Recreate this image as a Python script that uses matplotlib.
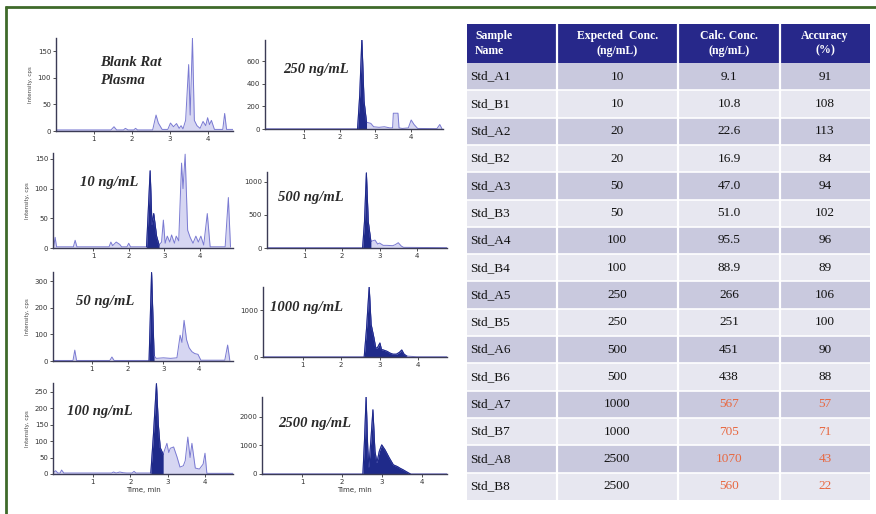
import numpy as np
import matplotlib.pyplot as plt
from matplotlib.patches import Rectangle

W, H = 876, 514

# table values
sample_names = ['Std_A1', 'Std_B1', 'Std_A2', 'Std_B2', 'Std_A3', 'Std_B3', 'Std_A4', 'Std_B4',
                'Std_A5', 'Std_B5', 'Std_A6', 'Std_B6', 'Std_A7', 'Std_B7', 'Std_A8', 'Std_B8']
expected_conc = ['10', '10', '20', '20', '50', '50', '100', '100',
                 '250', '250', '500', '500', '1000', '1000', '2500', '2500']
calc_conc = ['9.1', '10.8', '22.6', '16.9', '47.0', '51.0', '95.5', '88.9',
             '266', '251', '451', '438', '567', '705', '1070', '560']
accuracy = ['91', '108', '113', '84', '94', '102', '96', '89',
            '106', '100', '90', '88', '57', '71', '43', '22']
headers = ['Sample\nName', 'Expected  Conc.\n(ng/mL)', 'Calc. Conc.\n(ng/mL)', 'Accuracy\n(%)']

# chromatogram traces (time in min, intensity in cps)
t_blank = [0, 1.45, 1.53, 1.6, 1.78, 1.83, 1.9, 2.05, 2.1, 2.15, 2.55, 2.64, 2.7, 2.8, 2.95, 3.02,
           3.1, 3.18, 3.25, 3.3, 3.35, 3.42, 3.5, 3.54, 3.6, 3.65, 3.72, 3.8, 3.88, 3.95, 4.0, 4.05,
           4.1, 4.18, 4.4, 4.45, 4.5, 4.67]
i_blank = [2, 2, 8, 2, 2, 5, 2, 2, 5, 2, 2, 30, 15, 3, 3, 15,
           8, 14, 5, 10, 4, 20, 125, 30, 175, 20, 10, 5, 18, 10, 25, 12,
           20, 3, 3, 33, 3, 3]

t_10 = [-0.1, -0.06, -0.02, 0.45, 0.5, 0.55, 1.45, 1.5, 1.55, 1.65, 1.75, 1.8, 1.95, 2.0, 2.05,
        2.5, 2.6, 2.65, 2.7, 2.78, 2.85, 2.92, 2.97, 3.02, 3.08, 3.15, 3.2, 3.28, 3.33, 3.4,
        3.48, 3.52, 3.58, 3.65, 3.72, 3.8, 3.88, 3.95, 4.02, 4.1, 4.2, 4.28, 4.7, 4.79, 4.85]
i_10 = [2, 18, 2, 2, 13, 2, 2, 10, 4, 10, 6, 2, 2, 8, 2,
        2, 130, 40, 58, 20, 5, 10, 47, 8, 20, 10, 22, 8, 20, 12,
        143, 100, 158, 30, 18, 8, 20, 10, 20, 5, 58, 2, 2, 85, 2]

t_50 = [-0.09, 0.47, 0.52, 0.57, 1.5, 1.56, 1.62, 2.6, 2.67, 2.74, 2.8, 3.0, 3.2, 3.38, 3.47,
        3.52, 3.58, 3.65, 3.72, 3.8, 3.88, 3.97, 4.05, 4.72, 4.8, 4.86]
i_50 = [2, 2, 41, 2, 2, 15, 2, 2, 333, 20, 10, 12, 10, 12, 97,
        70, 153, 80, 50, 35, 28, 25, 3, 3, 60, 3]

t_100 = [-0.07, 0.0, 0.06, 0.12, 0.16, 0.22, 1.5, 1.55, 1.62, 1.72, 1.8, 1.9, 2.05, 2.1, 2.15,
         2.55, 2.62, 2.7, 2.75, 2.8, 2.88, 2.98, 3.03, 3.07, 3.16, 3.25, 3.33, 3.42, 3.47, 3.54,
         3.6, 3.65, 3.74, 3.85, 3.95, 4.0, 4.05, 4.75]
i_100 = [3, 10, 3, 3, 12, 3, 3, 6, 3, 6, 4, 3, 3, 8, 3,
         3, 120, 274, 150, 80, 60, 93, 65, 78, 82, 52, 21, 25, 40, 112,
         50, 93, 18, 15, 30, 63, 2, 2]

t_250 = [-0.09, 2.5, 2.56, 2.62, 2.68, 2.75, 2.87, 2.95, 3.1, 3.25, 3.4, 3.48, 3.5, 3.63, 3.66,
         3.75, 3.92, 4.0, 4.08, 4.18, 4.72, 4.8, 4.86]
i_250 = [2, 2, 300, 800, 250, 60, 50, 20, 15, 20, 10, 10, 140, 140, 10,
         5, 10, 80, 40, 5, 3, 40, 3]

t_500 = [0, 2.55, 2.6, 2.65, 2.7, 2.77, 2.88, 2.95, 3.0, 3.1, 3.2, 3.35, 3.42, 3.5, 3.58, 3.64, 4.8]
i_500 = [5, 5, 400, 1136, 400, 100, 120, 60, 75, 40, 40, 35, 50, 80, 30, 10, 5]

t_1000 = [-0.04, 2.6, 2.66, 2.73, 2.78, 2.85, 2.9, 2.94, 3.01, 3.05, 3.1, 3.2, 3.27, 3.35, 3.44,
          3.52, 3.58, 3.64, 3.71, 3.97, 4.76]
i_1000 = [5, 5, 600, 1500, 700, 425, 200, 190, 300, 160, 150, 120, 85, 60, 60,
          100, 150, 60, 20, 5, 5]

t_2500 = [0, 2.52, 2.56, 2.6, 2.64, 2.67, 2.72, 2.77, 2.82, 2.87, 2.93, 2.99, 3.07, 3.18, 3.28,
          3.38, 3.45, 3.52, 3.58, 3.7, 4.62]
i_2500 = [5, 5, 1200, 2700, 900, 250, 1200, 2250, 800, 400, 800, 1020, 850, 560, 320,
          260, 200, 150, 100, 5, 5]

dark = '#1f2a8a'
light_line = '#7a7ad2'
light_fill = '#d6d6f2'
serif = ['Liberation Serif', 'DejaVu Serif']

fig = plt.figure(figsize=(W / 100, H / 100), dpi=100)
fig.patch.set_facecolor('white')

# overlay axes in pixel coordinates for frame and table
ov = fig.add_axes([0, 0, 1, 1])
ov.set_xlim(0, W)
ov.set_ylim(H, 0)
ov.axis('off')
ov.plot([5, W], [7, 7], color='#3f6a2a', lw=2.0, solid_capstyle='butt')
ov.plot([6, 6], [6, H], color='#3f6a2a', lw=2.0, solid_capstyle='butt')

col_edges = [467, 557, 678, 780, 870]
head_top, head_bot = 24, 63
row_h = 27.3

for c in range(4):
    x0, x1 = col_edges[c], col_edges[c + 1]
    ov.add_patch(Rectangle((x0, head_top), x1 - x0, head_bot - head_top, fc='#27288a', ec='none'))
    for r in range(len(sample_names)):
        y0 = head_bot + r * row_h
        fc = '#c9c9de' if r % 2 == 0 else '#e7e7f0'
        ov.add_patch(Rectangle((x0, y0), x1 - x0, row_h, fc=fc, ec='none'))
# white separators
for x in col_edges[1:-1]:
    ov.plot([x, x], [head_top, head_bot + row_h * len(sample_names)], color='white', lw=1.6)
for r in range(1, len(sample_names)):
    y = head_bot + r * row_h
    ov.plot([col_edges[0], col_edges[-1]], [y, y], color='white', lw=1.2)

# header text
ov.text(475, 43.5, headers[0], ha='left', va='center', color='white', fontsize=8.5,
        fontweight='bold', family=serif, linespacing=1.25)
for c in range(1, 4):
    xc = (col_edges[c] + col_edges[c + 1]) / 2
    ov.text(xc, 43.5, headers[c], ha='center', va='center', color='white', fontsize=8.5,
            fontweight='bold', family=serif, linespacing=1.25)

red = '#e8673f'
for r in range(len(sample_names)):
    yc = head_bot + (r + 0.5) * row_h
    off = int(accuracy[r]) < 80
    ov.text(470, yc, sample_names[r], ha='left', va='center', fontsize=9.5, family=serif, color='#111111')
    ov.text(617, yc, expected_conc[r], ha='center', va='center', fontsize=9.5, family=serif, color='#111111')
    ov.text(729, yc, calc_conc[r], ha='center', va='center', fontsize=9.5, family=serif,
            color=red if off else '#111111')
    ov.text(825, yc, accuracy[r], ha='center', va='center', fontsize=9.5, family=serif,
            color=red if off else '#111111')

# chromatogram panels: box = (left, right, baseline, top) in pixels
panels = [
    dict(t=t_blank, i=i_blank, box=(56, 233, 131, 38), xlim=(0, 4.67), ymax=175,
         yticks=[0, 50, 100, 150], win=None, label='Blank Rat\nPlasma', lpos=(100, 72), ylab=True),
    dict(t=t_10, i=i_10, box=(53, 233, 248, 153), xlim=(-0.12, 4.92), ymax=160,
         yticks=[0, 50, 100, 150], win=(2.5, 2.85), label='10 ng/mL', lpos=(80, 182), ylab=True),
    dict(t=t_50, i=i_50, box=(53, 233, 361, 272), xlim=(-0.09, 4.95), ymax=335,
         yticks=[0, 100, 200, 300], win=(2.58, 2.76), label='50 ng/mL', lpos=(76, 301), ylab=True),
    dict(t=t_100, i=i_100, box=(53, 233, 474, 383), xlim=(-0.07, 4.75), ymax=276,
         yticks=[0, 50, 100, 150, 200, 250], win=(2.55, 2.9), label='100 ng/mL', lpos=(67, 412),
         ylab=True, xlab=True),
    dict(t=t_250, i=i_250, box=(265, 443, 129, 40), xlim=(-0.09, 4.89), ymax=790,
         yticks=[0, 200, 400, 600], win=(2.5, 2.8), label='250 ng/mL', lpos=(283, 70)),
    dict(t=t_500, i=i_500, box=(267, 447, 248, 172), xlim=(0, 4.8), ymax=1150,
         yticks=[0, 500, 1000], win=(2.55, 2.8), label='500 ng/mL', lpos=(278, 198)),
    dict(t=t_1000, i=i_1000, box=(263, 447, 357, 287), xlim=(-0.04, 4.76), ymax=1500,
         yticks=[0, 1000], win=(2.6, 3.75), label='1000 ng/mL', lpos=(270, 308)),
    dict(t=t_2500, i=i_2500, box=(262, 447, 474, 397), xlim=(0, 4.62), ymax=2700,
         yticks=[0, 1000, 2000], win=(2.5, 3.75), label='2500 ng/mL', lpos=(278, 424), xlab=True),
]

for p in panels:
    l, r, b, tp = p['box']
    ax = fig.add_axes([l / W, 1 - b / H, (r - l) / W, (b - tp) / H])
    ax.patch.set_alpha(0)
    t = np.array(p['t'], dtype=float)
    v = np.array(p['i'], dtype=float)
    ax.fill_between(t, 0, v, color=light_fill, lw=0)
    ax.plot(t, v, color=light_line, lw=0.7)
    if p['win'] is not None:
        m = (t >= p['win'][0]) & (t <= p['win'][1])
        ax.fill_between(t, 0, v, where=m, color=dark, lw=0)
        ax.plot(t[m], v[m], color=dark, lw=0.8)
    ax.set_xlim(*p['xlim'])
    ax.set_ylim(0, p['ymax'])
    for s in ['top', 'right']:
        ax.spines[s].set_visible(False)
    for s in ['left', 'bottom']:
        ax.spines[s].set_color('#3b3b55')
        ax.spines[s].set_linewidth(1.0)
    ax.set_xticks([1, 2, 3, 4])
    ax.set_yticks(p['yticks'])
    ax.tick_params(length=2, width=0.6, labelsize=5, pad=1.5, colors='#333333')
    if p.get('ylab'):
        ax.set_ylabel('Intensity, cps', fontsize=4, color='#444444', labelpad=3)
    if p.get('xlab'):
        ax.set_xlabel('Time, min', fontsize=5, color='#333333', labelpad=1.5)
    lx, ly = p['lpos']
    fig.text(lx / W, 1 - ly / H, p['label'], ha='left', va='center', fontsize=10.5,
             fontweight='bold', fontstyle='italic', family=serif, color='#2a2a2a', linespacing=1.5)

fig.savefig('out.png', dpi=100)
